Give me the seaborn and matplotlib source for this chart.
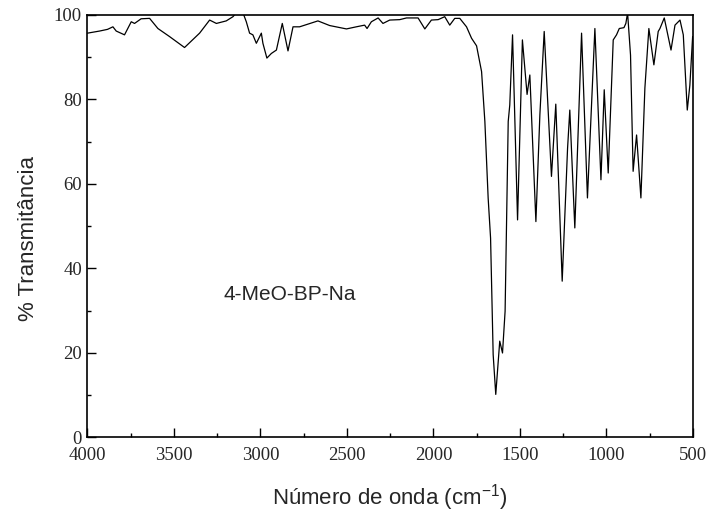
import matplotlib
matplotlib.use("Agg")
import matplotlib.pyplot as plt
from matplotlib.ticker import MultipleLocator
import seaborn as sns
import pandas as pd

wavenumber = [4000, 3930, 3884, 3853, 3834, 3786, 3747, 3728, 3690, 3641,
              3593, 3526, 3439, 3352, 3294, 3255, 3198, 3159, 3140, 3101,
              3082, 3063, 3044, 3024, 2995, 2986, 2963, 2937, 2908, 2874,
              2841, 2812, 2774, 2668, 2600, 2503, 2446, 2398, 2384, 2359,
              2320, 2292, 2253, 2195, 2156, 2089, 2050, 2012, 1973, 1935,
              1906, 1877, 1848, 1809, 1780, 1751, 1722, 1703, 1684, 1670,
              1655, 1640, 1617, 1601, 1586, 1568, 1559, 1543, 1514, 1486,
              1459, 1443, 1408, 1385, 1360, 1318, 1293, 1256, 1225, 1212,
              1183, 1144, 1110, 1067, 1032, 1013, 990, 961, 942, 926,
              899, 888, 878, 861, 846, 826, 801, 778, 755, 726,
              701, 691, 666, 627, 604, 575, 556, 533, 518, 502]
transmittance = [95.7, 96.2, 96.6, 97.2, 96.2, 95.3, 98.4, 98.0, 99.1, 99.2,
                 96.8, 94.9, 92.3, 95.7, 98.8, 98.0, 98.6, 99.6, 100.5, 100.5,
                 98.4, 95.7, 95.3, 93.3, 95.7, 93.3, 89.8, 90.9, 91.7, 98.0,
                 91.5, 97.2, 97.2, 98.6, 97.5, 96.7, 97.2, 97.6, 96.8, 98.4,
                 99.3, 98.0, 98.8, 98.9, 99.3, 99.3, 96.7, 98.8, 98.9, 99.6,
                 97.6, 99.2, 99.2, 97.2, 94.5, 92.7, 86.6, 74.8, 56.7, 47.2,
                 19.6, 10.2, 22.8, 20.0, 29.9, 74.8, 78.7, 95.3, 51.5, 94.1,
                 81.2, 85.8, 51.1, 76.4, 96.1, 61.8, 78.9, 37.0, 68.4, 77.5,
                 49.6, 95.7, 56.7, 96.8, 61.0, 82.3, 62.6, 94.1, 95.3, 96.8,
                 97.0, 98.0, 100.5, 90.5, 63.0, 71.6, 56.7, 82.7, 96.8, 88.2,
                 96.1, 96.8, 99.3, 91.7, 97.6, 98.8, 95.3, 77.5, 83.4, 94.9]

x_ticks = [4000, 3500, 3000, 2500, 2000, 1500, 1000, 500]
y_ticks = [0, 20, 40, 60, 80, 100]
sample_label = "4-MeO-BP-Na"

sns.set_style("white")
plt.rcParams["font.family"] = ["Liberation Sans", "DejaVu Sans"]

df = pd.DataFrame({"wn": wavenumber, "T": transmittance})

fig = plt.figure(figsize=(7.09, 5.15), dpi=100)
ax = fig.add_axes([0.1234, 0.1505, 0.9774 - 0.1234, 0.9709 - 0.1505])

sns.lineplot(data=df, x="wn", y="T", ax=ax, color="black", linewidth=0.9,
             estimator=None, sort=False)

ax.set_xlim(4000, 500)
ax.set_ylim(0, 100)
ax.set_xticks(x_ticks)
ax.set_yticks(y_ticks)
ax.xaxis.set_minor_locator(MultipleLocator(250))
ax.yaxis.set_minor_locator(MultipleLocator(10))
ax.tick_params(axis="both", which="major", direction="in", length=6.5, width=1.0,
               color="black", labelsize=13.5, bottom=True, left=True,
               top=False, right=False)
ax.tick_params(axis="x", which="major", pad=6.5)
ax.tick_params(axis="y", which="major", pad=4)
ax.tick_params(axis="both", which="minor", direction="in", length=3, width=1.0,
               color="black", bottom=True, left=True, top=False, right=False)
for lab in ax.get_xticklabels() + ax.get_yticklabels():
    lab.set_fontfamily(["Liberation Serif", "DejaVu Serif"])

for sp in ax.spines.values():
    sp.set_color("black")
    sp.set_linewidth(1.2)

ax.set_xlabel(r"Número de onda (cm$^{\mathregular{-1}}$)", fontsize=16, va="center")
ax.set_ylabel("% Transmitância", fontsize=16, va="center")
ax.xaxis.set_label_coords(0.5, -0.143)
ax.yaxis.set_label_coords(-0.098, 0.472)

ax.text(2830, 33.8, sample_label, fontsize=15, ha="center", va="center")

fig.savefig("out.png", dpi=100)
